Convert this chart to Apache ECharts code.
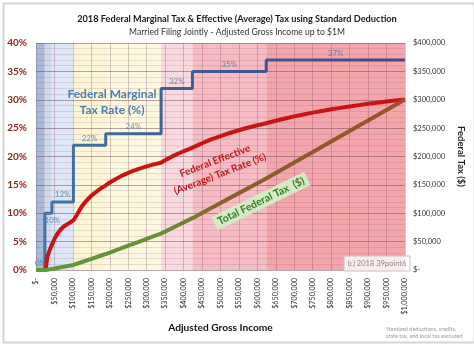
<!DOCTYPE html>
<html><head><meta charset="utf-8">
<script src="https://cdn.jsdelivr.net/npm/echarts@6/dist/echarts.min.js"></script>
<style>html,body{margin:0;padding:0;background:#fff}#c{width:474px;height:344px}</style>
</head><body><div id="c"></div>
<script>
// ---- data ----
const agi = [0, 24000, 30000, 35000, 43050, 50000, 60000, 75000, 101400, 125000, 150000, 175000, 189000, 200000, 225000, 250000, 275000, 300000, 325000, 339000, 350000, 375000, 400000, 424000, 450000, 475000, 500000, 550000, 600000, 624000, 650000, 700000, 750000, 800000, 850000, 900000, 950000, 1000000];
const effRate = [0, 0, 2.0, 3.14, 4.43, 5.48, 6.57, 7.65, 8.78, 11.28, 13.07, 14.34, 14.91, 15.41, 16.36, 17.13, 17.75, 18.27, 18.71, 18.93, 19.34, 20.19, 20.92, 21.55, 22.33, 23.0, 23.6, 24.63, 25.5, 25.86, 26.31, 27.07, 27.73, 28.31, 28.82, 29.28, 29.68, 30.05];
const totalTax = [0, 0, 600, 1100, 1905, 2739, 3939, 5739, 8907, 14099, 19599, 25099, 28179, 30819, 36819, 42819, 48819, 54819, 60819, 64179, 67699, 75699, 83699, 91379, 100479, 109229, 117979, 135479, 152979, 161379, 170999, 189499, 207999, 226499, 244999, 263499, 281999, 300499];
const bracketStart = [0, 24000, 43050, 101400, 189000, 339000, 424000, 624000, 1000000];
const marginalRate = [0, 10, 12, 22, 24, 32, 35, 37, 37];
const rateLabels = ['0%', '10%', '12%', '22%', '24%', '32%', '35%', '37%'];
const xTicks = {min: 0, max: 1000000, step: 50000};
const pctTicks = {min: 0, max: 40, step: 5};
const taxTicks = {min: 0, max: 400000, step: 50000};
// ---- styles ----
const bandColors = ['#a9b9d7', '#d0daef', '#dfe6f5', '#fdf6d6', '#fdf8df', '#f9d9df', '#f7bcc3', '#f4a5ac'];
const FONT = 'Lato, "Open Sans", sans-serif';

const money = v => v === 0 ? '$-' : '$' + v.toLocaleString('en-US');

const marginalData = bracketStart.map((x, i) => [x, marginalRate[i]]);
const effData = agi.map((x, i) => [x, effRate[i]]);
const taxData = agi.map((x, i) => [x, totalTax[i]]);
const bands = [];
for (let i = 0; i < bracketStart.length - 1; i++) {
  bands.push([{xAxis: bracketStart[i], itemStyle: {color: bandColors[i], opacity: 1}}, {xAxis: bracketStart[i + 1]}]);
}
const labelData = rateLabels.map((t, i) => {
  const d = {value: [(bracketStart[i] + bracketStart[i + 1]) / 2, marginalRate[i]], name: t};
  if (i === 1) d.label = {position: 'bottom', offset: [4, 0]};
  return d;
});

const chart = echarts.init(document.getElementById('c'), null, {renderer: 'canvas'});
chart.setOption({
  animation: false,
  textStyle: {fontFamily: FONT},
  title: {
    text: '2018 Federal Marginal Tax & Effective (Average) Tax using Standard Deduction',
    subtext: 'Married Filing Jointly - Adjusted Gross Income up to $1M',
    left: 'center', top: 10, itemGap: 4,
    textStyle: {fontSize: 9.2, fontWeight: 'bold', color: '#1a1a1a', fontFamily: FONT},
    subtextStyle: {fontSize: 8.6, color: '#333', fontFamily: FONT}
  },
  grid: {left: 36, right: 61, top: 43, bottom: 74},
  xAxis: {
    type: 'value', min: xTicks.min, max: xTicks.max, interval: xTicks.step, z: 1,
    name: 'Adjusted Gross Income', nameLocation: 'middle', nameGap: 52,
    nameTextStyle: {fontSize: 10.2, fontWeight: 'bold', color: '#111', fontFamily: FONT},
    axisLine: {show: false}, axisTick: {show: false},
    axisLabel: {rotate: 90, fontSize: 7.2, color: '#333', margin: 8, formatter: money, fontFamily: FONT},
    splitLine: {show: true, lineStyle: {color: 'rgba(110,70,90,0.28)', width: 1}}
  },
  yAxis: [{
    type: 'value', min: pctTicks.min, max: pctTicks.max, interval: pctTicks.step, z: 1,
    axisLine: {show: false}, axisTick: {show: false},
    axisLabel: {formatter: '{value}%', fontSize: 10, fontWeight: 'bold', color: '#8b2525', margin: 9, fontFamily: FONT},
    splitLine: {show: true, lineStyle: {color: 'rgba(100,60,80,0.45)', width: 1}},
    minorTick: {show: false, splitNumber: 5},
    minorSplitLine: {show: true, lineStyle: {color: 'rgba(120,80,100,0.16)', width: 1}}
  }, {
    type: 'value', min: taxTicks.min, max: taxTicks.max, interval: taxTicks.step, z: 1,
    name: 'Federal Tax ($)', nameLocation: 'middle', nameGap: 43, nameRotate: -90,
    nameTextStyle: {fontSize: 9.5, fontWeight: 'bold', color: '#222', fontFamily: FONT},
    axisLine: {show: false}, axisTick: {show: false}, splitLine: {show: false},
    axisLabel: {formatter: money, fontSize: 7.5, color: '#333', margin: 8, fontFamily: FONT}
  }],
  series: [{
    type: 'line', data: [], z: 0, silent: true,
    markArea: {silent: true, z: 0, data: bands}
  }, {
    name: 'Federal Marginal Tax Rate', type: 'line', step: 'end', data: marginalData, z: 4,
    symbol: 'none',
    lineStyle: {width: 3, color: {type: 'linear', x: 0, y: 0, x2: 1, y2: 0, colorStops: [
      {offset: 0, color: '#3f76a8'}, {offset: 0.4, color: '#3d5f92'}, {offset: 1, color: '#4a4585'}]}}
  }, {
    name: 'Effective', type: 'line', data: effData, z: 5, symbol: 'none',
    smooth: 0.2,
    lineStyle: {width: 4, color: '#c81414'}
  }, {
    name: 'Total Federal Tax', type: 'line', yAxisIndex: 1, data: taxData, z: 5, symbol: 'none',
    smooth: false,
    lineStyle: {width: 4, color: {type: 'linear', x: 0, y: 0, x2: 1, y2: 0, colorStops: [
      {offset: 0, color: '#5f9a38'}, {offset: 0.35, color: '#6a9035'}, {offset: 0.5, color: '#86612d'}, {offset: 1, color: '#9c5128'}]}}
  }, {
    type: 'scatter', data: labelData, symbolSize: 0, z: 6, silent: true,
    label: {show: true, position: 'top', distance: 3, formatter: p => p.name, fontSize: 8, color: '#4474a4', fontFamily: FONT}
  }],
  graphic: [
    {type: 'rect', left: 1, top: 1, z: 100, shape: {width: 471, height: 339}, style: {fill: 'none', stroke: '#d6d6d6', lineWidth: 2}, silent: true},
    {type: 'text', x: 112, y: 94, z: 100, style: {text: 'Federal Marginal', fill: '#4f7fae', font: 'bold 12px ' + FONT, align: 'center', verticalAlign: 'middle'}},
    {type: 'text', x: 112, y: 110, z: 100, style: {text: 'Tax Rate (%)', fill: '#4f7fae', font: 'bold 12px ' + FONT, align: 'center', verticalAlign: 'middle'}},
    {type: 'text', x: 215, y: 161, rotation: 21 * Math.PI / 180, z: 100, style: {text: 'Federal Effective', fill: '#c0181c', font: 'bold 10px ' + FONT, align: 'center', verticalAlign: 'middle'}},
    {type: 'text', x: 220, y: 174, rotation: 21 * Math.PI / 180, z: 100, style: {text: '(Average) Tax Rate (%)', fill: '#c0181c', font: 'bold 10px ' + FONT, align: 'center', verticalAlign: 'middle'}},
    {type: 'text', x: 261, y: 201, rotation: 26 * Math.PI / 180, z: 100, style: {text: 'Total Federal Tax  ($)', fill: '#3f7a2a', font: 'bold 10.5px ' + FONT, align: 'center', verticalAlign: 'middle', backgroundColor: '#d3ebc3', padding: [2, 4]}},
    {type: 'rect', x: 344, y: 256, z: 100, shape: {width: 66, height: 15}, style: {fill: 'rgba(255,255,255,0.8)', stroke: '#c4c4c4', lineWidth: 1}},
    {type: 'text', x: 377, y: 264, z: 101, style: {text: '(c) 2018 39point6', fill: '#8a8a8a', font: '7.5px ' + FONT, align: 'center', verticalAlign: 'middle'}},
    {type: 'text', x: 385, y: 329, z: 100, style: {text: '*Itemized deductions, credits,', fill: '#9a9a9a', font: '5.5px ' + FONT, align: 'left', verticalAlign: 'middle'}},
    {type: 'text', x: 386, y: 336, z: 100, style: {text: 'state tax, and local tax excluded', fill: '#9a9a9a', font: '5.5px ' + FONT, align: 'left', verticalAlign: 'middle'}}
  ]
});
</script></body></html>
